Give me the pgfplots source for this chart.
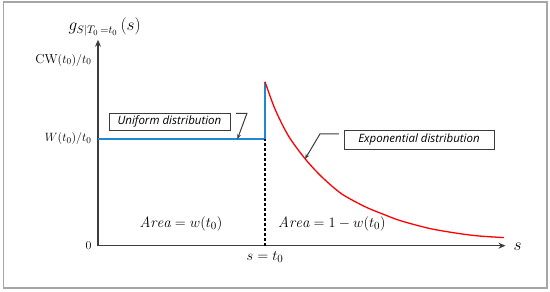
\documentclass[border=0pt]{standalone}
\usepackage{fontspec}
\usepackage{pgfplots}
\pgfplotsset{compat=1.18}
\usetikzlibrary{arrows.meta}
\newfontfamily\boxfont{Open Sans}
\definecolor{lineblue}{RGB}{30,136,212}
\definecolor{axisgray}{RGB}{60,60,60}
\begin{document}
\begin{tikzpicture}
\useasboundingbox (0,0) rectangle (550pt,292pt);
\begin{axis}[
  at={(98pt,46.3pt)}, anchor=south west,
  x=167pt, y=106.7pt,
  xmin=0, xmax=2.44, ymin=0, ymax=1.93,
  axis lines=left,
  axis line style={line width=1.5pt, color=axisgray, -{Stealth[length=7pt,width=6pt]}},
  clip=false,
  xtick={1}, xticklabels={$s=t_0$},
  ytick={0,1,1.74}, yticklabels={$0$,$W(t_0)/t_0$,$\mathrm{CW}(t_0)/t_0$},
  major tick length=0pt,
  yticklabel style={font=\fontsize{13}{15}\selectfont, xshift=-3pt},
  xticklabel style={font=\fontsize{15}{17}\selectfont, yshift=-2pt},
]
\addplot[lineblue, line width=1.5pt] coordinates {(0,1) (1,1) (1,1.537)};
\addplot[black, dashed, dash pattern=on 3pt off 2pt, line width=1.2pt] coordinates {(1,0) (1,1)};
\addplot[red, line width=1.3pt, smooth] coordinates {
  (1.00,1.537) (1.06,1.28) (1.14,1.03) (1.24,0.815) (1.34,0.645)
  (1.46,0.485) (1.60,0.365) (1.70,0.30) (1.81,0.235) (1.99,0.160)
  (2.17,0.112) (2.29,0.090) (2.43,0.076)};

\node[font=\fontsize{16}{18}\selectfont] at (axis cs:0.04,2.05) {$g_{S|T_0\,=t_0}\,(s)$};
\node[font=\fontsize{16}{18}\selectfont] at (axis cs:2.512,-0.01) {$s$};
\node[font=\fontsize{15}{17}\selectfont] at (axis cs:0.497,0.203) {$\mathit{Area}=w(t_0)$};
\node[font=\fontsize{15}{17}\selectfont] at (axis cs:1.401,0.203) {$\mathit{Area}=1-w(t_0)$};

\node[draw=axisgray, line width=0.8pt, fill=white, minimum width=121pt, minimum height=17pt, inner sep=0pt,
  font=\boxfont\itshape\fontsize{11.5}{13}\selectfont] at (axis cs:0.428,1.164) {Uniform distribution};
\draw[axisgray, line width=1pt, -{Stealth[length=5pt,width=4pt]}]
  (axis cs:0.826,1.241) -- (axis cs:0.892,1.241) -- (axis cs:0.835,1.0);

\node[draw=axisgray, line width=0.8pt, fill=white, minimum width=150pt, minimum height=19pt, inner sep=0pt,
  font=\boxfont\itshape\fontsize{11.5}{13}\selectfont] at (axis cs:1.922,0.995) {Exponential distribution};
\draw[axisgray, line width=1pt, -{Stealth[length=5pt,width=4pt]}]
  (axis cs:1.443,1.047) -- (axis cs:1.329,1.047) -- (axis cs:1.240,0.813);
\end{axis}
\draw[black!35, line width=1.5pt] (3.5pt,4pt) rectangle (547pt,290pt);
\end{tikzpicture}
\end{document}
